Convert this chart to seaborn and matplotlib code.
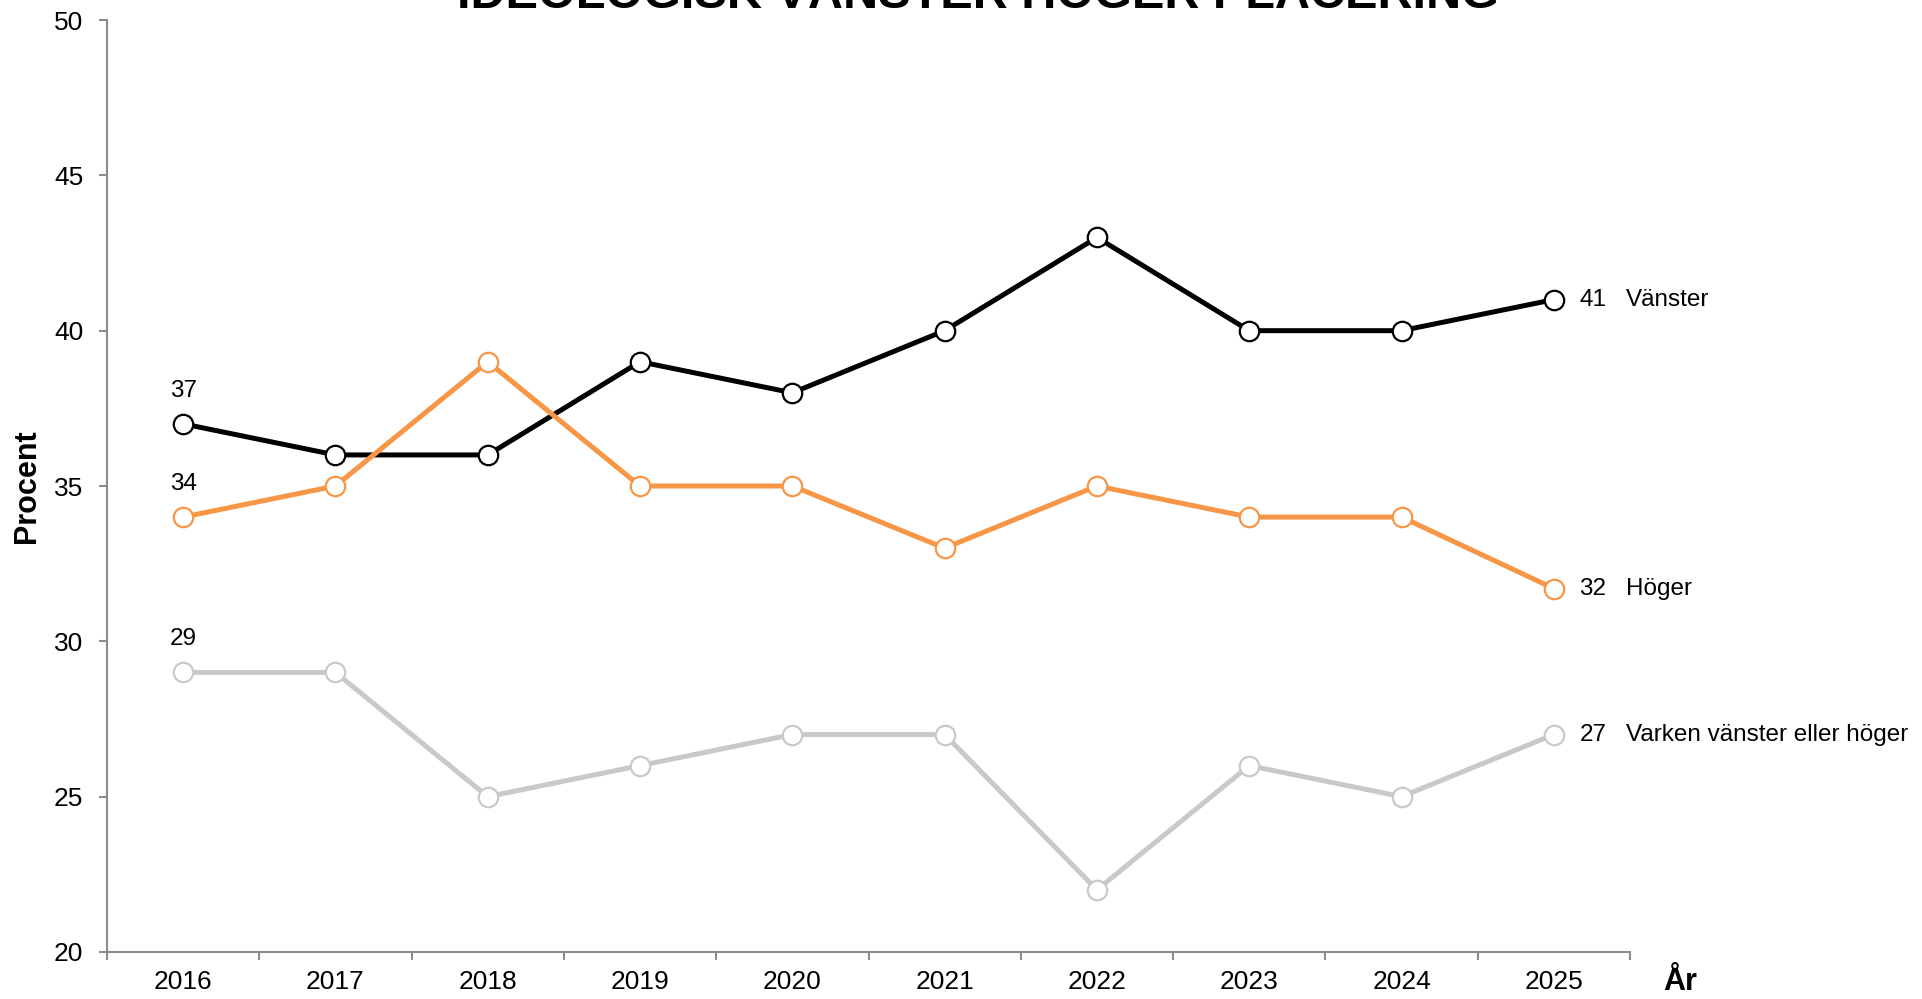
import matplotlib
matplotlib.use("Agg")
import matplotlib.pyplot as plt
import seaborn as sns
import pandas as pd
import numpy as np
from matplotlib.ticker import FixedLocator

years = ["2016", "2017", "2018", "2019", "2020", "2021", "2022", "2023", "2024", "2025"]
vanster = [37, 36, 36, 39, 38, 40, 43, 40, 40, 41]
hoger = [34, 35, 39, 35, 35, 33, 35, 34, 34, 31.7]
varken = [29, 29, 25, 26, 27, 27, 22, 26, 25, 27]

series_names = ["Vänster", "Höger", "Varken vänster eller höger"]
series_values = [vanster, hoger, varken]
colors = ["#000000", "#F79646", "#C9C9C9"]

title = "IDEOLOGISK VÄNSTER HÖGER PLACERING"
ylabel = "Procent"
xlabel = "År"

sns.set_theme(style="white")
plt.rcParams['font.family'] = ['Liberation Sans', 'DejaVu Sans']

fig = plt.figure(figsize=(19.22, 9.99), dpi=100)
ax = fig.add_axes([107/1922, 1-952/999, (1630-107)/1922, (952-20)/999])

xs = np.arange(len(years))
for name, vals, col in zip(series_names, series_values, colors):
    df = pd.DataFrame({"x": xs, "y": vals})
    sns.lineplot(data=df, x="x", y="y", ax=ax, color=col, linewidth=3.6,
                 marker="o", markersize=14, markerfacecolor="white",
                 markeredgecolor=col, markeredgewidth=1.6, zorder=3)
    ax.annotate(f"{vals[0]:.0f}", (xs[0], vals[0]), xytext=(0, 24),
                textcoords="offset points", ha="center", va="center", fontsize=17.5, color="black")
    ax.annotate(f"{vals[-1]:.0f}", (xs[-1], vals[-1]), xytext=(18.5, 0),
                textcoords="offset points", ha="left", va="center", fontsize=17.5, color="black")
    ax.annotate(name, (xs[-1], vals[-1]), xytext=(52, 0),
                textcoords="offset points", ha="left", va="center", fontsize=17.5, color="black")

ax.set_xlim(-0.5, len(years) - 0.5)
ax.set_ylim(20, 50)
ax.set_yticks([20, 25, 30, 35, 40, 45, 50])
ax.set_xticks(xs)
ax.set_xticklabels(years)
ax.xaxis.set_minor_locator(FixedLocator(np.arange(-0.5, len(years), 1.0)))

for s in ["top", "right"]:
    ax.spines[s].set_visible(False)
for s in ["left", "bottom"]:
    ax.spines[s].set_color("#8C8C8C")
    ax.spines[s].set_linewidth(1.5)

ax.tick_params(axis="y", which="major", left=True, direction="out", length=6,
               width=1.5, color="#8C8C8C", labelsize=19, pad=11, labelcolor="black")
ax.tick_params(axis="x", which="major", bottom=True, length=0, labelsize=19, pad=13, labelcolor="black")
ax.tick_params(axis="x", which="minor", bottom=True, direction="out", length=6,
               width=1.5, color="#8C8C8C")

ax.set_xlabel("")
ax.set_ylabel(ylabel, fontsize=22, fontweight="bold", color="black")
ax.yaxis.set_label_coords(-0.0427, 0.5)

fig.text(1663/1922, 1-982/999, xlabel, fontsize=22, fontweight="bold", ha="left", va="center", color="black")
fig.text(978/1922, 1-8/999, title, fontsize=35, fontweight="bold", ha="center", va="baseline", color="black")

fig.savefig("out.png", dpi=100)
